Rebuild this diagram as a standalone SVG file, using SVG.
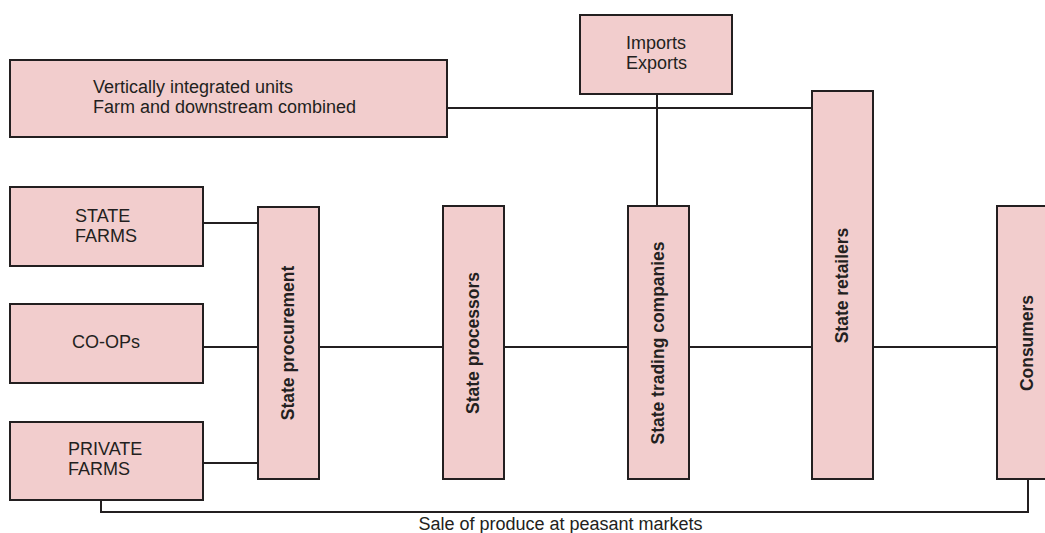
<svg xmlns="http://www.w3.org/2000/svg" width="1045" height="533" viewBox="0 0 1045 533">
<style>
.box{fill:#f2cdcd;stroke:#231f20;stroke-width:2}
.ln{fill:none;stroke:#231f20;stroke-width:2}
.t{font-family:"Liberation Sans",Arial,sans-serif;font-size:18px;fill:#231f20}
.v{font-family:"Liberation Sans",Arial,sans-serif;font-size:17.5px;font-weight:bold;fill:#231f20;text-anchor:middle}
</style>
<rect width="1045" height="533" fill="#ffffff"/>
<g id="connectors">
<line class="ln" x1="447" y1="108" x2="812" y2="108"/>
<line class="ln" x1="657" y1="94" x2="657" y2="206"/>
<line class="ln" x1="203" y1="223" x2="258" y2="223"/>
<line class="ln" x1="203" y1="347" x2="258" y2="347"/>
<line class="ln" x1="203" y1="463" x2="258" y2="463"/>
<line class="ln" x1="319" y1="347" x2="443" y2="347"/>
<line class="ln" x1="504" y1="347" x2="628" y2="347"/>
<line class="ln" x1="689" y1="347" x2="812" y2="347"/>
<line class="ln" x1="873" y1="347" x2="997" y2="347"/>
<polyline class="ln" points="101,500 101,512 1028,512 1028,479"/>
<text class="t" x="560.5" y="530" text-anchor="middle">Sale of produce at peasant markets</text>
</g>
<g id="vertical-units">
<rect class="box" x="10" y="60" width="437" height="77"/>
<text class="t" x="93" y="93">Vertically integrated units</text>
<text class="t" x="93" y="113">Farm and downstream combined</text>
</g>
<g id="imports-exports">
<rect class="box" x="580" y="15" width="152" height="79"/>
<text class="t" x="626" y="49">Imports</text>
<text class="t" x="626" y="69">Exports</text>
</g>
<g id="state-farms">
<rect class="box" x="10" y="187" width="193" height="79"/>
<text class="t" x="75" y="222">STATE</text>
<text class="t" x="75" y="242">FARMS</text>
</g>
<g id="co-ops">
<rect class="box" x="10" y="304" width="193" height="79"/>
<text class="t" x="72" y="348">CO-OPs</text>
</g>
<g id="private-farms">
<rect class="box" x="10" y="422" width="193" height="78"/>
<text class="t" x="68" y="455">PRIVATE</text>
<text class="t" x="68" y="475">FARMS</text>
</g>
<g id="state-procurement">
<rect class="box" x="258" y="207" width="61" height="272"/>
<text class="v" transform="translate(293.5,343) rotate(-90) scale(1,1.1)">State procurement</text>
</g>
<g id="state-processors">
<rect class="box" x="443" y="206" width="61" height="273"/>
<text class="v" transform="translate(478.5,343) rotate(-90) scale(1,1.1)">State processors</text>
</g>
<g id="state-trading">
<rect class="box" x="628" y="206" width="61" height="273"/>
<text class="v" transform="translate(663.5,343) rotate(-90) scale(1,1.1)">State trading companies</text>
</g>
<g id="state-retailers">
<rect class="box" x="812" y="91" width="61" height="388"/>
<text class="v" transform="translate(847.5,285.5) rotate(-90) scale(1,1.1)">State retailers</text>
</g>
<g id="consumers">
<rect class="box" x="997" y="206" width="61" height="273"/>
<text class="v" transform="translate(1032.5,343) rotate(-90) scale(1,1.1)">Consumers</text>
</g>
</svg>
